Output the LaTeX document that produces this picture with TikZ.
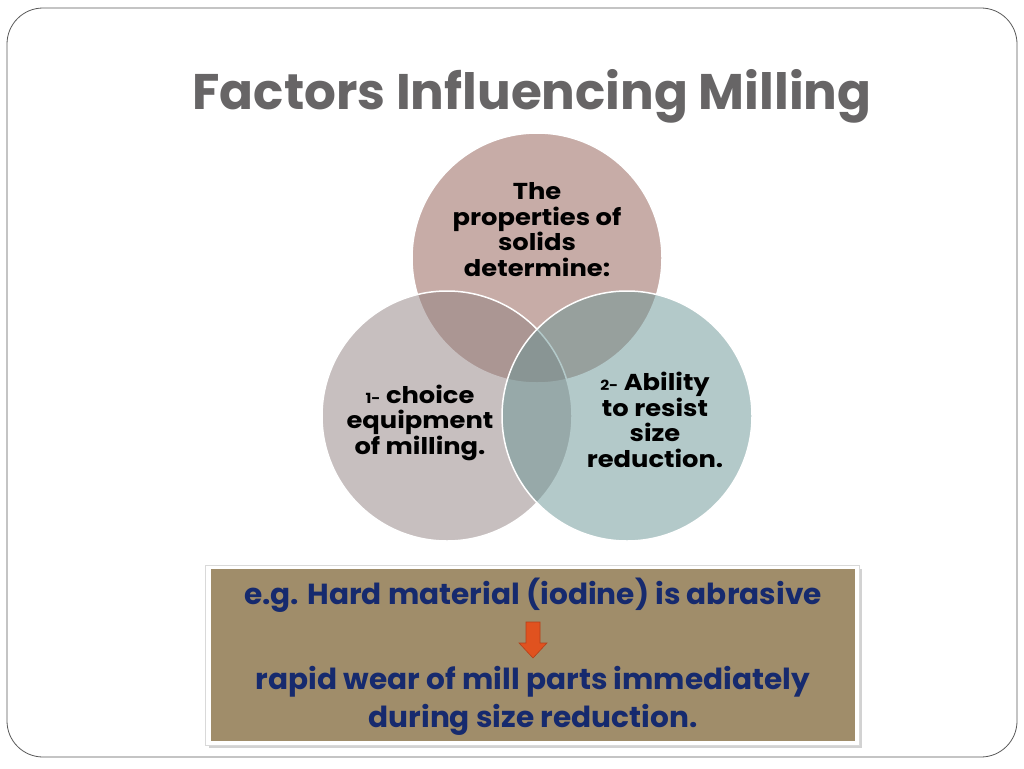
\documentclass[tikz,border=0pt]{standalone}
\usepackage{fontspec}
\setmainfont{Poppins}
\newfontfamily\titlefont{Poppins}
\newfontfamily\venfont{Poppins}[FakeStretch=1.12]
\newfontfamily\boxfont{Poppins}[FakeStretch=1.02]
\definecolor{framegray}{HTML}{5A5A5A}
\definecolor{titlegray}{HTML}{676566}
\definecolor{topc}{RGB}{145,91,81}
\definecolor{leftc}{RGB}{145,129,129}
\definecolor{rightc}{RGB}{105,149,149}
\definecolor{boxtan}{RGB}{160,141,106}
\definecolor{navy}{RGB}{22,42,110}
\definecolor{arroworange}{RGB}{224,82,31}
\definecolor{arrowedge}{RGB}{180,64,26}
\tikzset{
  venn/.style={circle, minimum size=250pt, inner sep=0pt, draw=white, line width=1.5pt, fill opacity=0.5, text opacity=1},
  venntext/.style={font=\venfont\bfseries\fontsize{23}{25.5}\selectfont, align=center, text=black, inner sep=0pt},
  boxtext/.style={font=\boxfont\bfseries\fontsize{29}{38}\selectfont, text=navy, align=center, inner sep=0pt},
  blockarrow/.style={fill=arroworange, draw=arrowedge, line width=0.6pt},
}
\begin{document}
\begin{tikzpicture}[x=1pt,y=-1pt]
\useasboundingbox (0,0) rectangle (1024,768);
\fill[white] (0,0) rectangle (1024,768);
% slide frame
\draw[framegray, line width=0.8pt, rounded corners=36pt] (7,8) rectangle (1017,757);
% title
\node[anchor=base, text=titlegray, font=\titlefont\bfseries\fontsize{50}{50}\selectfont, inner sep=0pt] (title) at (532,109) {Factors Influencing Milling};
% circles
\node[venn, fill=topc] (top) at (537,258) {};
\node[venn, fill=leftc] (left) at (447,416) {};
\node[venn, fill=rightc] (right) at (627,416) {};
% circle texts (base = baseline of last line)
\node[venntext, anchor=base] (toptext) at (537,276) {The\\properties of\\solids\\determine:};
\node[venntext, anchor=base] (lefttext) at (420,454) {{\fontsize{14}{25.5}\selectfont 1-} choice\\equipment\\of milling.};
\node[venntext, anchor=base] (righttext) at (655,467) {{\fontsize{14}{25.5}\selectfont 2-} Ability\\to resist\\size\\reduction.};
% bottom box
\fill[gray!35] (209,569) rectangle (862,748);
\filldraw[fill=white, draw=gray!30, line width=0.6pt] (205,565) rectangle (859,745);
\fill[boxtan] (211,569) rectangle (855,741);
\node[boxtext, anchor=base] (line1) at (533,604) {e.g. Hard material (iodine) is abrasive};
\node[boxtext, anchor=base] (line2) at (533,727) {rapid wear of mill parts immediately\\during size reduction.};
% block arrow
\draw[blockarrow] (526,622) -- (540,622) -- (540,643) -- (547,643) -- (533,658) -- (519,643) -- (526,643) -- cycle;
\end{tikzpicture}
\end{document}
